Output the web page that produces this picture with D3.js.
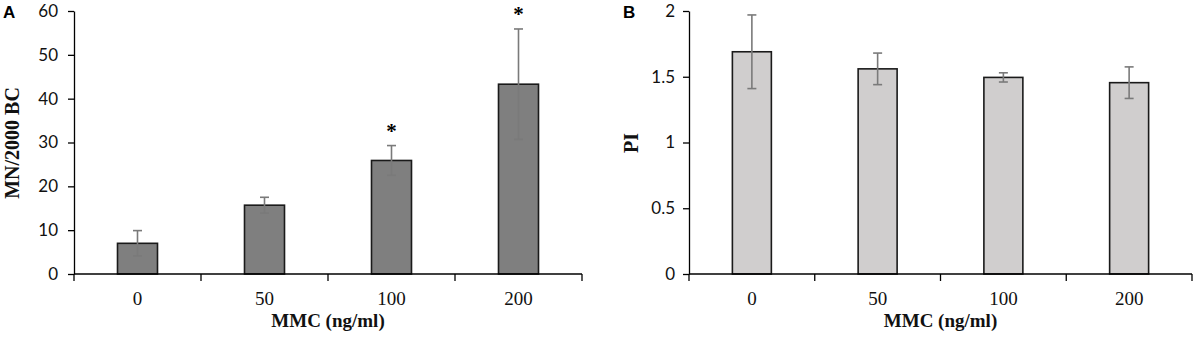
<!DOCTYPE html>
<html>
<head>
<meta charset="utf-8">
<script src="https://cdn.jsdelivr.net/npm/d3@7"></script>
<style>
  html, body { margin: 0; padding: 0; background: #fff; }
  svg { display: block; }
</style>
</head>
<body>
<svg id="chart" width="1195" height="340"></svg>
<script>
// ---- data ----
const categories = ["0", "50", "100", "200"];
const mnMeans = [7.0, 15.7, 25.9, 43.3];
const mnErrors = [2.9, 1.8, 3.4, 12.6];
const mnSignificant = [false, false, true, true];
const mnTicks = [0, 10, 20, 30, 40, 50, 60];

const piMeans = [1.69, 1.56, 1.495, 1.455];
const piErrors = [0.28, 0.12, 0.035, 0.12];
const piSignificant = [false, false, false, false];
const piTicks = [0, 0.5, 1, 1.5, 2];

const xTitle = "MMC (ng/ml)";

const svg = d3.select("#chart");

function panel(opts) {
  const g = svg.append("g");
  const x = d3.scaleBand().domain(categories)
    .range([opts.x0, opts.x1]).paddingInner(opts.pad).paddingOuter(opts.pad / 2);
  const y = d3.scaleLinear().domain([0, opts.ymax]).range([274, 11]);
  const cx = c => x(c) + x.bandwidth() / 2;

  // bars
  g.selectAll("rect.bar").data(opts.means).join("rect")
    .attr("class", "bar")
    .attr("x", (d, i) => x(categories[i]))
    .attr("width", x.bandwidth())
    .attr("y", d => y(d))
    .attr("height", d => y(0) - y(d))
    .attr("fill", opts.fill)
    .attr("stroke", "#1a1a1a")
    .attr("stroke-width", 1.6);

  // error bars
  const eb = g.selectAll("g.err").data(opts.means).join("g").attr("class", "err")
    .attr("stroke", "#7a7a7a").attr("stroke-width", 1.6);
  eb.append("line")
    .attr("x1", (d, i) => cx(categories[i]))
    .attr("x2", (d, i) => cx(categories[i]))
    .attr("y1", (d, i) => y(d + opts.errs[i]))
    .attr("y2", (d, i) => y(d - opts.errs[i]));
  [1, -1].forEach(s => {
    eb.append("line")
      .attr("x1", (d, i) => cx(categories[i]) - 4.5)
      .attr("x2", (d, i) => cx(categories[i]) + 4.5)
      .attr("y1", (d, i) => y(d + s * opts.errs[i]))
      .attr("y2", (d, i) => y(d + s * opts.errs[i]));
  });

  // significance stars
  g.selectAll("text.star").data(opts.means.map((d, i) => ({ d, i })).filter(o => opts.sig[o.i]))
    .join("text").attr("class", "star")
    .attr("x", o => cx(categories[o.i]))
    .attr("y", o => y(o.d + opts.errs[o.i]) - 8)
    .attr("text-anchor", "middle")
    .attr("font-family", "Liberation Serif, serif")
    .attr("font-weight", "bold")
    .attr("font-size", 21)
    .attr("fill", "#000")
    .text("*");

  // y axis
  const yAxis = d3.axisLeft(y).tickValues(opts.ticks).tickSize(6).tickSizeOuter(0)
    .tickPadding(opts.tickPad).tickFormat(d3.format("~g"));
  const ya = g.append("g").attr("transform", `translate(${opts.x0},0)`).call(yAxis);
  ya.select(".domain").attr("stroke", "#000").attr("stroke-width", 1.3);
  ya.selectAll(".tick line").attr("stroke", "#000").attr("stroke-width", 1.3);
  ya.selectAll(".tick text").attr("font-family", "Lato, 'Open Sans', sans-serif")
    .attr("font-size", 17).attr("fill", "#111");

  // x axis line and boundary ticks
  g.append("line").attr("x1", opts.x0).attr("x2", opts.x1)
    .attr("y1", y(0)).attr("y2", y(0)).attr("stroke", "#000").attr("stroke-width", 1.3);
  const edges = [opts.x0]
    .concat(categories.slice(1).map(c => x(c) - (x.step() - x.bandwidth()) / 2))
    .concat([opts.x1]);
  g.selectAll("line.xt").data(edges).join("line").attr("class", "xt")
    .attr("x1", d => d).attr("x2", d => d)
    .attr("y1", y(0)).attr("y2", y(0) + 7)
    .attr("stroke", "#000").attr("stroke-width", 1.3);

  // x tick labels
  g.selectAll("text.xl").data(categories).join("text").attr("class", "xl")
    .attr("x", c => cx(c))
    .attr("y", 305)
    .attr("text-anchor", "middle")
    .attr("font-family", "Liberation Serif, serif")
    .attr("font-size", 19)
    .attr("fill", "#111")
    .text(c => c);

  // x title
  g.append("text")
    .attr("x", (opts.x0 + opts.x1) / 2)
    .attr("y", 327)
    .attr("text-anchor", "middle")
    .attr("font-family", "Liberation Serif, serif")
    .attr("font-weight", "bold")
    .attr("font-size", 19)
    .attr("fill", "#111")
    .text(xTitle);

  // y title
  g.append("text")
    .attr("transform", `translate(${opts.yTitleX},${143}) rotate(-90)`)
    .attr("text-anchor", "middle")
    .attr("dominant-baseline", "central")
    .attr("font-family", "Liberation Serif, serif")
    .attr("font-weight", "bold")
    .attr("font-size", 20)
    .attr("fill", "#111")
    .text(opts.yTitle);

  // panel letter
  g.append("text")
    .attr("x", opts.letterX)
    .attr("y", 18)
    .attr("font-family", "Liberation Sans, Arial, sans-serif")
    .attr("font-weight", "bold")
    .attr("font-size", 17)
    .attr("fill", "#000")
    .text(opts.letter);
}

panel({
  x0: 74, x1: 582, pad: 0.685, ymax: 60,
  means: mnMeans, errs: mnErrors, sig: mnSignificant, ticks: mnTicks,
  fill: "#7f7f7f", tickPad: 10, yTitle: "MN/2000 BC", yTitleX: 12,
  letter: "A", letterX: 3
});

panel({
  x0: 689, x1: 1192, pad: 0.69, ymax: 2,
  means: piMeans, errs: piErrors, sig: piSignificant, ticks: piTicks,
  fill: "#d0cece", tickPad: 8, yTitle: "PI", yTitleX: 631,
  letter: "B", letterX: 623
});
</script>
</body>
</html>
